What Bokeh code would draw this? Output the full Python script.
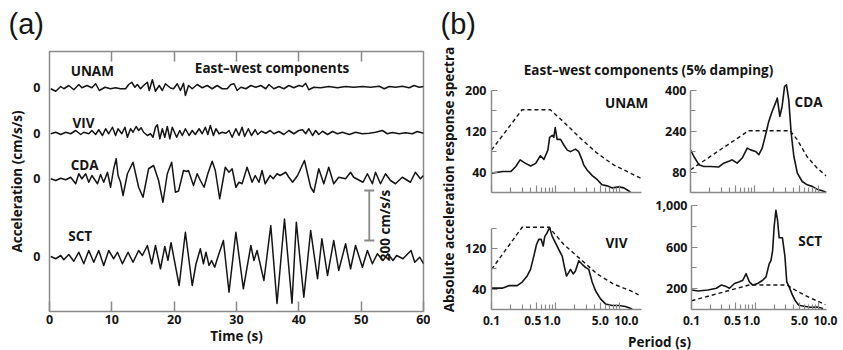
import math
from bokeh.plotting import figure
from bokeh.layouts import row, column
from bokeh.models import (ColumnDataSource, FixedTicker, LinearAxis, Label, Range1d,
                          Whisker, TeeHead, CustomJSTickFormatter, PrintfTickFormatter,
                          NumeralTickFormatter, CustomLabelingPolicy)
from bokeh.transform import dodge
from bokeh.embed import file_html
from bokeh.resources import INLINE

# ---------------- data: panel (a) accelerograms (time s, acceleration cm/s/s) -------------
UNAM_T = [0.2, 1.0, 1.8, 2.3, 3.1, 3.9, 4.7, 5.2, 6.0, 6.8, 7.4, 8.0, 8.9, 9.8, 10.6, 11.4, 12.2,
          12.7, 13.2, 13.7, 14.1, 14.6, 15.1, 15.7, 16.0, 16.5, 17.0, 17.6, 18.1, 18.6, 19.4, 19.9,
          20.5, 21.0, 21.5, 21.8, 22.3, 22.9, 23.7, 24.5, 25.3, 26.1, 26.9, 27.7, 28.5, 29.1, 29.6,
          30.1, 30.7, 31.5, 32.3, 33.1, 33.9, 34.7, 35.2, 36.0, 36.8, 37.6, 38.4, 39.2, 40.0, 40.6,
          41.1, 41.6, 42.4, 43.5, 44.8, 46.2, 47.5, 48.8, 50.2, 51.5, 52.9, 53.7, 54.5, 55.5, 56.6,
          57.7, 58.5, 59.3, 60.0]
UNAM_A = [-5, -15, 4, -5, 8, -9, 12, -1, 8, -1, 15, -12, 1, -5, -1, -5, -5,
          12, 21, 1, 12, -5, 8, 21, -12, 31, -15, 8, -12, 15, -2, -5,
          15, -12, 17, -32, 8, -5, 12, -1, 8, -5, 8, -5, -5, 12, 15,
          -12, 1, -5, 8, 1, 8, -5, 12, -5, 4, -5, 8, -1, 8, 4,
          17, -9, 1, -1, 4, -1, 4, 1, 4, 1, 5, -5, 4, 1, 5,
          -1, 8, 1, 4]

VIV_T = [0.2, 1.0, 1.8, 2.6, 3.4, 4.2, 5.0, 5.5, 6.3, 6.8, 7.4, 7.9, 8.5, 9.0, 9.5, 10.1, 10.6,
         11.0, 11.6, 12.1, 12.5, 13.0, 13.4, 13.9, 14.3, 14.7, 15.1, 15.7, 16.2, 16.6, 17.0, 17.3,
         17.7, 18.1, 18.5, 18.9, 19.3, 19.7, 20.4, 20.9, 21.3, 21.8, 22.4, 22.9, 23.4, 24.0, 24.5,
         25.0, 25.4, 25.8, 26.3, 26.7, 27.2, 27.7, 28.3, 28.8, 29.3, 29.9, 30.4, 30.9, 31.3, 31.9,
         32.4, 33.0, 33.4, 34.0, 34.7, 35.4, 36.0, 36.8, 37.6, 38.4, 39.2, 40.0, 40.6, 41.1, 41.6,
         42.2, 42.7, 43.2, 43.8, 44.6, 45.4, 46.2, 47.0, 48.1, 49.1, 50.2, 51.3, 52.3, 53.4, 54.2,
         55.0, 56.1, 57.1, 58.2, 59.0, 60.0]
VIV_A = [-1, 5, -4, 5, -1, 12, -4, 5, -1, 12, -4, 15, -8, 19, -1, 25, -8,
         19, -1, 25, -15, 19, 5, 28, 12, 23, 5, -8, -1, -15, 25, 35,
         -21, 19, -15, 28, -21, 25, -15, 12, -8, 19, -8, 12, -4, 19, -1,
         25, -4, 32, -8, 19, -1, 5, 1, 12, -15, 19, -8, 25, -12, 19,
         -8, 15, -4, 9, 1, 12, -1, 8, -4, 12, -1, 12, 15, -1, 19,
         -8, 12, -4, 9, -4, 8, -1, 5, -4, 5, -1, 1, 5, 12, -1,
         4, -1, 3, -1, 8, 1]

CDA_T = [0.2, 1.0, 1.8, 2.6, 3.4, 4.2, 4.7, 5.2, 5.8, 6.3, 6.8, 7.7, 8.2, 8.7, 9.3, 9.8, 10.3,
         10.7, 11.0, 11.4, 11.8, 12.5, 13.4, 14.3, 15.0, 15.9, 16.7, 17.5, 18.2, 18.9, 19.6, 20.2,
         20.7, 21.5, 22.0, 22.3, 23.1, 23.7, 24.2, 24.8, 25.4, 26.1, 26.6, 27.3, 28.2, 28.8, 29.3,
         29.9, 30.4, 30.9, 31.7, 32.5, 33.0, 33.6, 34.1, 34.6, 35.4, 35.9, 36.5, 37.0, 37.9, 38.4,
         39.0, 39.8, 40.9, 41.9, 42.4, 43.2, 44.0, 44.8, 45.6, 46.4, 47.5, 48.3, 48.8, 50.3, 51.0,
         51.8, 52.3, 53.1, 53.9, 54.7, 55.5, 56.6, 57.9, 58.7, 59.5, 60.0]
CDA_A = [-1, -8, 1, -5, 5, -21, 19, -1, 19, -15, 12, -21, 16, -15, 25, -35, 39,
         79, 12, -15, -68, 19, 65, -35, -75, 39, 52, -8, -95, 19, 65, -55,
         -50, 32, 28, 32, -28, 19, -8, -35, 19, 69, 32, -81, 45, 25, 39,
         -35, -15, -21, 45, -15, 12, -15, 32, -21, 12, -1, 19, 12, 25, 5,
         -15, 12, 72, -35, -55, 39, -21, 45, -21, 5, -1, 25, 5, -15, 19,
         -21, 25, -21, 19, -8, -21, 5, -15, 25, -1, 12]

SCT_T = [0.2, 1.0, 1.8, 2.3, 3.1, 3.9, 4.7, 5.5, 6.3, 7.1, 7.9, 8.7, 9.5, 10.3, 10.9, 11.7, 12.6,
         13.4, 14.3, 14.9, 15.7, 16.4, 17.0, 17.8, 18.5, 19.0, 19.5, 20.8, 21.8, 22.9, 23.5, 24.2,
         24.7, 25.1, 25.6, 26.0, 26.5, 27.0, 27.9, 28.8, 29.9, 31.1, 32.3, 32.8, 33.3, 34.4, 35.5,
         36.5, 37.7, 38.9, 39.6, 40.8, 41.9, 43.0, 43.7, 44.6, 45.6, 46.4, 47.5, 48.3, 49.1, 50.2,
         51.0, 51.8, 52.6, 53.5, 54.3, 55.1, 55.7, 56.7, 58.0, 58.6, 59.4, 60.0]
SCT_A = [0, -9, 4, -13, 8, -19, 17, -29, 24, -23, 24, -36, 24, -9, 17, -29, 17,
         -23, 24, 4, 44, -29, 44, -49, 40, -15, 55, -116, 97, -116, -30, 31,
         -29, 17, -36, -16, -43, -3, 64, -143, 97, -129, 44, -16, 24, -96, 124,
         -188, 150, -187, 137, -163, 104, -89, 71, -76, 64, -56, 51, -49, 44, -43,
         24, -29, 11, -16, 11, -16, 4, -9, 24, -23, -3, -29]

STATIONS = ["UNAM", "VIV", "CDA", "SCT"]
TIME_TICKS = [0, 10, 20, 30, 40, 50, 60]
SCALE_BAR = 200  # cm/s/s

# ---------------- data: panel (b) response spectra (period s, cm/s/s) ----------------------
UNAM_P = [0.10, 0.15, 0.20, 0.24, 0.28, 0.34, 0.41, 0.49, 0.58, 0.66, 0.76, 0.81, 0.89, 0.94,
          0.99, 1.06, 1.2, 1.35, 1.53, 1.71, 2.05, 2.3, 2.6, 2.76, 3.12, 3.75, 4.5, 5.35, 6.4,
          7.7, 9.8, 11.7, 14.8]
UNAM_S = [38, 41, 41, 51, 64, 57, 52, 57, 72, 65, 83, 108, 112, 108,
          127, 104, 104, 93, 83, 80, 85, 80, 64, 54, 44, 33, 25, 15, 13,
          9, 11, 9, 1]
UNAM_DP = [0.1, 0.30, 0.83, 1.35, 2.46, 4.47, 8.1, 14.8, 21.3]
UNAM_DS = [83, 162, 162, 138, 106, 77, 54, 38, 28]

CDA_P = [0.10, 0.113, 0.135, 0.161, 0.205, 0.277, 0.331, 0.397, 0.448, 0.536, 0.643, 0.77,
         0.866, 1.04, 1.17, 1.32, 1.49, 1.67, 1.89, 2.13, 2.27, 2.49, 2.7, 2.95, 3.16, 3.43,
         3.74, 4.12, 4.67, 5.57, 6.67, 7.97, 9.5, 11.4, 13.2]
CDA_S = [167, 141, 109, 102, 102, 100, 115, 122, 128, 115, 135, 174,
         167, 161, 148, 174, 226, 278, 318, 350, 370, 298, 337, 416, 422, 363,
         233, 141, 76, 43, 30, 24, 13, 7, 1]
CDA_DP = [0.1, 0.81, 3.6, 4.65, 6.6, 9.5, 13.2]
CDA_DS = [89, 242, 242, 207, 141, 96, 65]

VIV_P = [0.10, 0.147, 0.186, 0.252, 0.302, 0.361, 0.407, 0.458, 0.505, 0.548, 0.598, 0.642,
         0.680, 0.742, 0.806, 0.888, 1.0, 1.127, 1.273, 1.383, 1.486, 1.614, 1.715, 1.89, 2.05,
         2.31, 2.61, 2.94, 3.31, 3.74, 4.22, 5.05, 6.04, 7.69, 9.75, 12.4, 15.8]
VIV_S = [42, 42, 47, 47, 54, 66, 79, 105, 128, 138, 138, 125,
         144, 151, 162, 144, 131, 118, 105, 83, 66, 73, 79, 70, 76,
         96, 89, 83, 79, 54, 37, 21, 11, 8, 8, 6, 1]
VIV_DP = [0.1, 0.302, 0.79, 1.35, 2.46, 4.47, 8.1, 14.8, 19.9]
VIV_DS = [79, 162, 162, 128, 99, 70, 50, 37, 29]

SCT_P = [0.10, 0.127, 0.182, 0.246, 0.294, 0.352, 0.396, 0.475, 0.569, 0.643, 0.723, 0.814,
         0.921, 1.1, 1.32, 1.49, 1.67, 1.78, 1.89, 2.0, 2.13, 2.26, 2.4, 2.7, 2.95, 3.16, 3.43,
         3.87, 4.36, 4.9, 5.88, 7.5, 9.5, 11.8]
SCT_S = [188, 178, 188, 204, 235, 220, 204, 250, 266, 281, 344, 266,
         235, 250, 281, 313, 438, 469, 563, 797, 954, 860, 689, 689, 516, 266, 220,
         141, 79, 41, 32, 22, 24, 9]
SCT_DP = [0.1, 0.8, 3.2, 4.65, 7.5, 12.8]
SCT_DS = [84, 235, 235, 173, 110, 47]

PERIOD_TICKS = [0.1, 0.5, 1.0, 5.0, 10.0]
PERIOD_MINOR = [0.2, 0.3, 0.4, 0.6, 0.7, 0.8, 0.9, 2, 3, 4, 6, 7, 8, 9]

# ---------------- style ----------------
FONT = "Open Sans"
BOLD = "bold"
INK = "#151515"
FRAME = "#8a8a8a"
TICK_FS = "12.5px"
LAB_FS = "13.5px"


def no_labels():
    return CustomLabelingPolicy(code="return []")


def blank(w, h):
    p = figure(width=w, height=h, x_range=Range1d(0, w), y_range=Range1d(0, h),
               output_backend="svg", toolbar_location=None,
               x_axis_location=None, y_axis_location=None, min_border=0)
    p.xgrid.visible = False
    p.ygrid.visible = False
    p.outline_line_color = None
    return p


def text(p, x, y, s, size=LAB_FS, align="center", angle=0.0, font=FONT, style=BOLD,
         baseline="middle"):
    p.add_layout(Label(x=x, y=y, text=s, text_font=font, text_font_size=size,
                       text_font_style=style, text_color=INK, text_align=align,
                       text_baseline=baseline, angle=angle))


# ---------------- top strip with panel letters ----------------
top_strip = blank(843, 46)
text(top_strip, 8, 22.5, "(a)", size="29px", align="left", font="Liberation Sans",
     style="normal")
text(top_strip, 440, 22.5, "(b)", size="29px", align="left", font="Liberation Sans",
     style="normal")

# ================= panel (a) =================
pa = figure(width=430, height=304, x_range=Range1d(0, 60), y_range=Range1d(-220, 820),
            output_backend="svg", toolbar_location=None,
            min_border_left=49, min_border_right=7, min_border_top=5, min_border_bottom=39)
pa.xgrid.visible = False
pa.ygrid.visible = False
pa.outline_line_color = FRAME
pa.outline_line_width = 1.5

xa = pa.xaxis[0]
xa.ticker = FixedTicker(ticks=TIME_TICKS)
xa.major_tick_in = 10
xa.major_tick_out = 0
xa.minor_tick_in = 0
xa.minor_tick_out = 0
xa.axis_line_color = None
xa.major_tick_line_color = FRAME
xa.major_tick_line_width = 1.5
xa.major_label_standoff = 3
xa.major_label_text_font = FONT
xa.major_label_text_font_style = BOLD
xa.major_label_text_font_size = TICK_FS
xa.major_label_text_color = INK
xa.axis_label = "Time (s)"
xa.axis_label_standoff = 0
xa.axis_label_text_font = FONT
xa.axis_label_text_font_size = LAB_FS
xa.axis_label_text_font_style = BOLD
xa.axis_label_text_color = INK

top = LinearAxis(ticker=FixedTicker(ticks=TIME_TICKS[1:-1]), major_tick_in=10, major_tick_out=0,
                 minor_tick_in=0, minor_tick_out=0, axis_line_color=None,
                 major_tick_line_color=FRAME, major_tick_line_width=1.5,
                 major_label_policy=no_labels(), major_label_text_font_size="1px",
                 major_label_standoff=0)
pa.add_layout(top, "above")

OFFSETS = {"UNAM": 676, "VIV": 492, "CDA": 312, "SCT": 0}
ya = pa.yaxis[0]
ya.ticker = FixedTicker(ticks=[OFFSETS[s] for s in STATIONS])
ya.formatter = CustomJSTickFormatter(code="return '0'")
ya.major_tick_in = 0
ya.major_tick_out = 0
ya.minor_tick_in = 0
ya.minor_tick_out = 0
ya.axis_line_color = None
ya.major_label_standoff = 9
ya.major_label_text_font = FONT
ya.major_label_text_font_style = BOLD
ya.major_label_text_font_size = TICK_FS
ya.major_label_text_color = INK
ya.axis_label = "Acceleration (cm/s/s)"
ya.axis_label_standoff = 4
ya.axis_label_text_font = FONT
ya.axis_label_text_font_size = LAB_FS
ya.axis_label_text_font_style = BOLD
ya.axis_label_text_color = INK

series_a = {"UNAM": (UNAM_T, UNAM_A), "VIV": (VIV_T, VIV_A),
            "CDA": (CDA_T, CDA_A), "SCT": (SCT_T, SCT_A)}
for s in STATIONS:
    T, A = series_a[s]
    src = ColumnDataSource(dict(t=T, a=A))
    pa.line(x="t", y=dodge("a", OFFSETS[s]), source=src, line_color=INK, line_width=1.5,
            line_join="round")

name_pos = {"UNAM": (3.4, 744), "VIV": (3.7, 536), "CDA": (3.4, 368), "SCT": (3.0, 84)}
for s in STATIONS:
    x, y = name_pos[s]
    text(pa, x, y, s, align="left")
text(pa, 35.7, 756, "East\u2013west components")

bar = ColumnDataSource(dict(t=[51.3], lo=[64], hi=[64 + SCALE_BAR]))
pa.add_layout(Whisker(source=bar, base="t", lower="lo", upper="hi", dimension="height",
                      line_color=FRAME, line_width=1.8,
                      upper_head=TeeHead(size=10, line_color=FRAME, line_width=1.8),
                      lower_head=TeeHead(size=10, line_color=FRAME, line_width=1.8)))
text(pa, 53.9, 124, f"{SCALE_BAR} cm/s/s", angle=math.pi / 2)


# ================= panel (b) =================
def spec(w, h, xend, xbound, ytop, ybound, ymaj, ymin, borders, xlabels, ystand, yfmt=None):
    l, r, t, b = borders
    p = figure(width=w, height=h, x_axis_type="log", x_range=Range1d(0.1, xend),
               y_range=Range1d(0, ytop), output_backend="svg", toolbar_location=None,
               min_border_left=l, min_border_right=r, min_border_top=t, min_border_bottom=b)
    p.xgrid.visible = False
    p.ygrid.visible = False
    p.outline_line_color = None
    xa = p.xaxis[0]
    xa.ticker = FixedTicker(ticks=PERIOD_TICKS, minor_ticks=PERIOD_MINOR)
    xa.formatter = PrintfTickFormatter(format="%.1f")
    xa.bounds = (0.1, xbound)
    xa.major_tick_in = 7
    xa.major_tick_out = 0
    xa.minor_tick_in = 5
    xa.minor_tick_out = 0
    for ax in (xa, p.yaxis[0]):
        ax.axis_line_color = FRAME
        ax.axis_line_width = 1.5
        ax.major_tick_line_color = FRAME
        ax.minor_tick_line_color = FRAME
        ax.major_tick_line_width = 1.2
        ax.minor_tick_line_width = 1.2
        ax.major_label_text_font = FONT
        ax.major_label_text_font_style = BOLD
        ax.major_label_text_font_size = TICK_FS
        ax.major_label_text_color = INK
    if xlabels is None:
        xa.major_label_policy = no_labels()
        xa.major_label_text_font_size = "1px"
        xa.major_label_standoff = 0
    else:
        xa.major_label_text_font_size = "12px"
        xa.major_label_standoff = 2
        xa.major_label_overrides = xlabels
    ya = p.yaxis[0]
    ya.ticker = FixedTicker(ticks=ymaj, minor_ticks=ymin)
    ya.bounds = (0, ybound)
    ya.major_tick_in = 6
    ya.major_tick_out = 0
    ya.minor_tick_in = 5
    ya.minor_tick_out = 0
    ya.major_label_standoff = ystand
    if yfmt is not None:
        ya.formatter = yfmt
    return p


def curves(p, P, S, DP, DS, name, lx, ly):
    p.line(DP, DS, line_color=INK, line_width=1.4, line_dash="4 3")
    p.line(P, S, line_color=INK, line_width=1.6, line_join="round")
    text(p, lx, ly, name)


XL = 10 ** (-1 + 159 / 64)     # left column frame reaches a little past its axis line
XL_AXIS = 10 ** (-1 + 150 / 64)
XR = 10 ** (-1 + 136 / 64)
LEFT_XLAB = {0.1: "0.1", 0.5: "0.5\u2007", 1.0: "1.0\u2007", 5.0: "5.0",
             10.0: "\u2007\u200710.0"}
RIGHT_XLAB = {0.1: "0.1", 0.5: "0.5\u2007", 1.0: "1.0\u2007", 5.0: "5.0",
              10.0: "\u2007\u200710.0"}

p_unam = spec(194, 117, XL, XL_AXIS, 110 / 0.5106, 200, [40, 120, 200], [80, 160],
              (33, 2, 2, 5), None, 5)
curves(p_unam, UNAM_P, UNAM_S, UNAM_DP, UNAM_DS, "UNAM", 12.9, 176)
p_cda = spec(191, 117, XR, XR, 110 / 0.2553, 400, [80, 240, 400], [160, 320],
             (38, 17, 2, 5), None, 4)
curves(p_cda, CDA_P, CDA_S, CDA_DP, CDA_DS, "CDA", 6.98, 356)
p_viv = spec(194, 134, XL, XL_AXIS, 110 / 0.5125, 160, [40, 120], [80, 160],
             (33, 2, 3, 21), LEFT_XLAB, 5)
curves(p_viv, VIV_P, VIV_S, VIV_DP, VIV_DS, "VIV", 8.98, 131)
p_sct = spec(191, 134, XR, XR, 110 / 0.105, 1000, [200, 600, 1000], [400, 800],
             (38, 17, 3, 21), RIGHT_XLAB, 4, NumeralTickFormatter(format="0,0"))
curves(p_sct, SCT_P, SCT_S, SCT_DP, SCT_DS, "SCT", 7.4, 657)

ylab = blank(28, 304)
text(ylab, 18.5, 171, "Absolute acceleration response spectra", angle=math.pi / 2)
title_f = blank(385, 34)
text(title_f, 190, 10.5, "East\u2013west components (5% damping)")
footer = blank(385, 19)
text(footer, 201, 9, "Period (s)")

panel_b = row(ylab, column(title_f, row(p_unam, p_cda), row(p_viv, p_sct), footer))
root = column(top_strip, row(pa, panel_b))

open("out.html", "w").write(file_html(root, INLINE))
